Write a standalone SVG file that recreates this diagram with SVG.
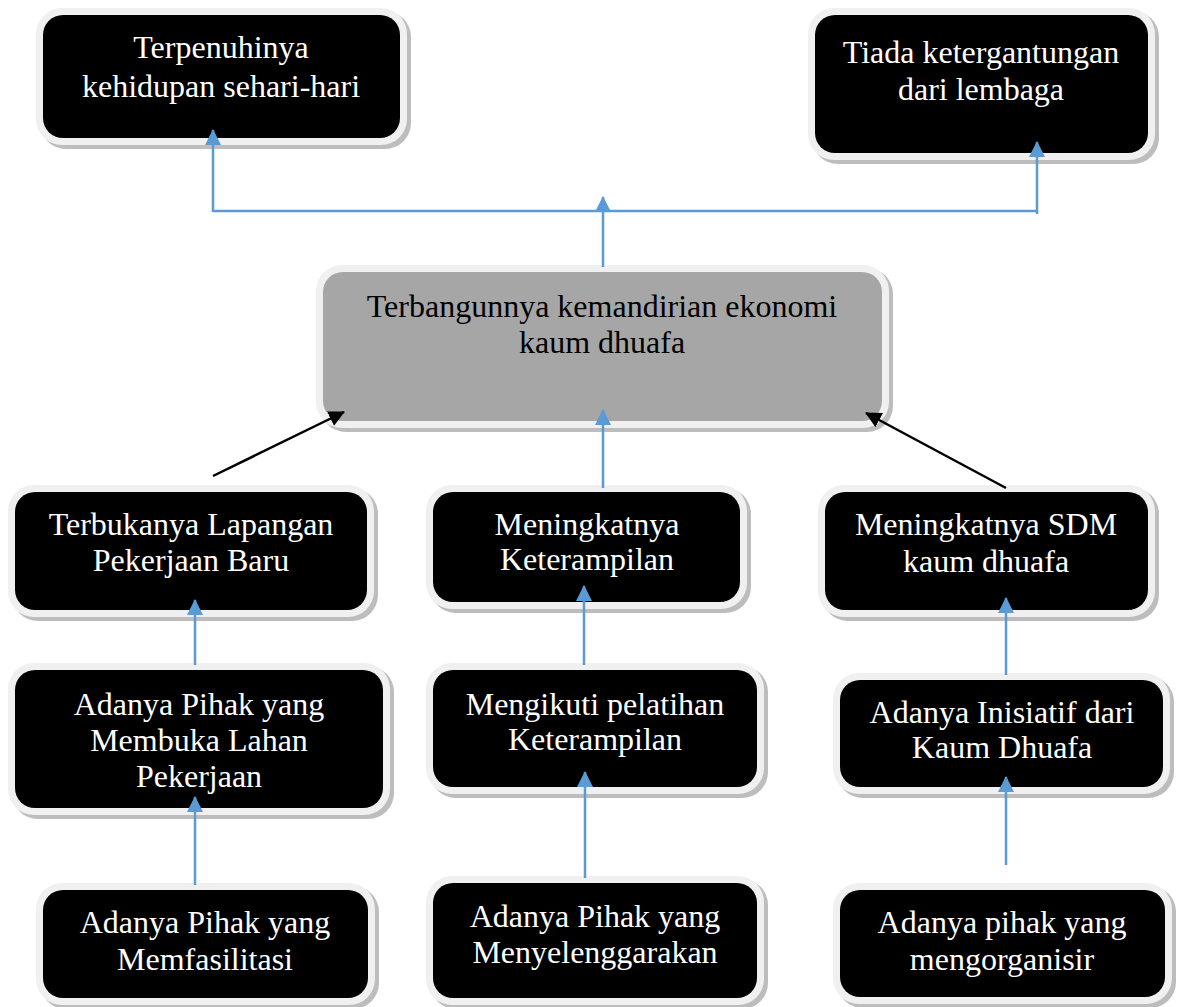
<svg xmlns="http://www.w3.org/2000/svg" width="1179" height="1007" viewBox="0 0 1179 1007">
<defs>
<style>
.sh{fill:#bdbdbd}
.bd{fill:#f0f0f0}
.bx{fill:#000}
.gx{fill:#a6a6a6}
.t{font-family:"Liberation Serif","Times New Roman",serif;font-size:32px;text-anchor:middle;fill:#fff}
.tk{font-family:"Liberation Serif","Times New Roman",serif;font-size:32px;text-anchor:middle;fill:#000}
.bl{stroke:#5b9bd5;stroke-width:2.5;fill:none}
.bk{stroke:#000;stroke-width:2.5;fill:none}
</style>
<marker id="ab" markerUnits="userSpaceOnUse" markerWidth="16" markerHeight="16" viewBox="0 0 16 16" refX="15" refY="8" orient="auto">
<path d="M0,0 L16,8 L0,16 Z" fill="#5b9bd5"/>
</marker>
<marker id="ak" markerUnits="userSpaceOnUse" markerWidth="16" markerHeight="16" viewBox="0 0 16 16" refX="15" refY="8" orient="auto">
<path d="M0,0 L16,8 L0,16 Z" fill="#000"/>
</marker>
</defs>
<rect width="1179" height="1007" fill="#fff"/>

<g id="n1">
<rect class="sh" x="40" y="11" width="371" height="138" rx="26"/>
<rect class="bd" x="36" y="8" width="371" height="137" rx="26"/>
<rect class="bx" x="43" y="15" width="357" height="123" rx="20"/>
<text class="t" x="221" y="58">Terpenuhinya</text>
<text class="t" x="221" y="97">kehidupan sehari-hari</text>
</g>

<g id="n2">
<rect class="sh" x="812" y="11" width="347" height="153" rx="26"/>
<rect class="bd" x="808" y="8" width="347" height="152" rx="26"/>
<rect class="bx" x="815" y="15" width="333" height="138" rx="20"/>
<text class="t" x="981" y="63">Tiada ketergantungan</text>
<text class="t" x="981" y="100">dari lembaga</text>
</g>

<g id="n3">
<rect class="sh" x="320" y="268" width="573" height="164" rx="26"/>
<rect class="bd" x="316" y="265" width="573" height="163" rx="26"/>
<rect class="gx" x="323" y="272" width="559" height="149" rx="20"/>
<text class="tk" x="602" y="317">Terbangunnya kemandirian ekonomi</text>
<text class="tk" x="602" y="353">kaum dhuafa</text>
</g>

<g id="n4">
<rect class="sh" x="12" y="488" width="366" height="133" rx="26"/>
<rect class="bd" x="8" y="485" width="366" height="132" rx="26"/>
<rect class="bx" x="15" y="492" width="352" height="118" rx="20"/>
<text class="t" x="191" y="535">Terbukanya Lapangan</text>
<text class="t" x="191" y="571">Pekerjaan Baru</text>
</g>

<g id="n5">
<rect class="sh" x="430" y="488" width="321" height="125" rx="26"/>
<rect class="bd" x="426" y="485" width="321" height="124" rx="26"/>
<rect class="bx" x="433" y="492" width="307" height="110" rx="20"/>
<text class="t" x="587" y="535">Meningkatnya</text>
<text class="t" x="587" y="570">Keterampilan</text>
</g>

<g id="n6">
<rect class="sh" x="822" y="488" width="337" height="133" rx="26"/>
<rect class="bd" x="818" y="485" width="337" height="132" rx="26"/>
<rect class="bx" x="825" y="492" width="323" height="118" rx="20"/>
<text class="t" x="986" y="535">Meningkatnya SDM</text>
<text class="t" x="986" y="572">kaum dhuafa</text>
</g>

<g id="n7">
<rect class="sh" x="12" y="666" width="382" height="153" rx="26"/>
<rect class="bd" x="8" y="663" width="382" height="152" rx="26"/>
<rect class="bx" x="15" y="670" width="368" height="138" rx="20"/>
<text class="t" x="199" y="715">Adanya Pihak yang</text>
<text class="t" x="199" y="751">Membuka Lahan</text>
<text class="t" x="199" y="787">Pekerjaan</text>
</g>

<g id="n8">
<rect class="sh" x="430" y="666" width="338" height="132" rx="26"/>
<rect class="bd" x="426" y="663" width="338" height="131" rx="26"/>
<rect class="bx" x="433" y="670" width="324" height="117" rx="20"/>
<text class="t" x="595" y="715">Mengikuti pelatihan</text>
<text class="t" x="595" y="750">Keterampilan</text>
</g>

<g id="n9">
<rect class="sh" x="837" y="676" width="337" height="122" rx="26"/>
<rect class="bd" x="833" y="673" width="337" height="121" rx="26"/>
<rect class="bx" x="840" y="680" width="323" height="107" rx="20"/>
<text class="t" x="1002" y="723">Adanya Inisiatif dari</text>
<text class="t" x="1002" y="758">Kaum Dhuafa</text>
</g>

<g id="n10">
<rect class="sh" x="40" y="886" width="339" height="123" rx="26"/>
<rect class="bd" x="36" y="883" width="339" height="122" rx="26"/>
<rect class="bx" x="43" y="890" width="325" height="108" rx="20"/>
<text class="t" x="205" y="933">Adanya Pihak yang</text>
<text class="t" x="205" y="970">Memfasilitasi</text>
</g>

<g id="n11">
<rect class="sh" x="430" y="879" width="338" height="130" rx="26"/>
<rect class="bd" x="426" y="876" width="338" height="129" rx="26"/>
<rect class="bx" x="433" y="883" width="324" height="115" rx="20"/>
<text class="t" x="595" y="927">Adanya Pihak yang</text>
<text class="t" x="595" y="963">Menyelenggarakan</text>
</g>

<g id="n12">
<rect class="sh" x="837" y="886" width="339" height="122" rx="26"/>
<rect class="bd" x="833" y="883" width="339" height="121" rx="26"/>
<rect class="bx" x="840" y="890" width="325" height="107" rx="20"/>
<text class="t" x="1002" y="933">Adanya pihak yang</text>
<text class="t" x="1002" y="970">mengorganisir</text>
</g>

<g id="connectors">
<path class="bl" d="M213,211 H1037"/>
<path class="bl" d="M213,212 V130" marker-end="url(#ab)"/>
<path class="bl" d="M1037,214 V142" marker-end="url(#ab)"/>
<path class="bl" d="M603,267 V197" marker-end="url(#ab)"/>
<path class="bl" d="M603,488 V410" marker-end="url(#ab)"/>
<path class="bl" d="M195,665 V600" marker-end="url(#ab)"/>
<path class="bl" d="M195,885 V797" marker-end="url(#ab)"/>
<path class="bl" d="M584,665 V586" marker-end="url(#ab)"/>
<path class="bl" d="M585,878 V772" marker-end="url(#ab)"/>
<path class="bl" d="M1006,675 V598" marker-end="url(#ab)"/>
<path class="bl" d="M1006,865 V777" marker-end="url(#ab)"/>
<path class="bk" d="M213,476 L344,412" marker-end="url(#ak)"/>
<path class="bk" d="M1006,488 L866,413" marker-end="url(#ak)"/>
</g>
</svg>
